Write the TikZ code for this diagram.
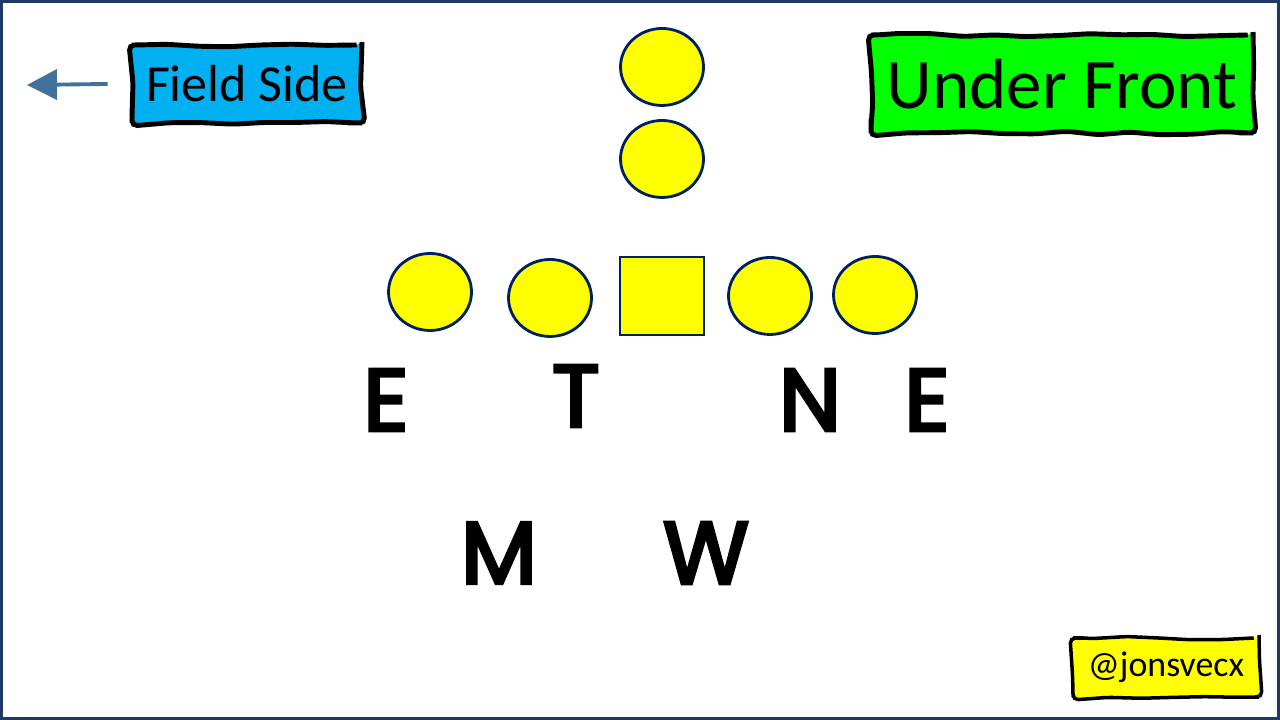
\documentclass[tikz,border=0pt]{standalone}
\usepackage{fontspec}
\setmainfont{Carlito}
\newfontfamily\handfont[FakeBold=4]{Poppins}
\usetikzlibrary{arrows.meta,shapes.geometric,decorations.pathmorphing}
\definecolor{fNavy}{HTML}{1F3864}
\definecolor{fLine}{HTML}{002060}
\definecolor{fCyan}{HTML}{00B0F0}
\definecolor{fGreen}{HTML}{00FF00}
\definecolor{fYellow}{HTML}{FFFF00}
\definecolor{fArrow}{HTML}{41719C}
\tikzset{
  lbox/.style  = {draw=black, line width=1.4pt, inner sep=0pt, align=center,
                  decorate, decoration={random steps, segment length=9pt, amplitude=0.5pt},
                  rounded corners=1.5pt},
  plyr/.style  = {ellipse, draw=fLine, fill=fYellow, line width=0.8pt,
                  minimum width=0.83cm, minimum height=0.77cm, inner sep=0pt},
  ctr/.style   = {rectangle, draw=fLine, fill=fYellow, line width=0.8pt,
                  minimum width=0.84cm, minimum height=0.78cm, inner sep=0pt},
  ltr/.style   = {inner sep=0pt, font=\handfont\fontsize{25}{25}\selectfont},
  fa/.style    = {-{Triangle[length=0.3cm, width=0.3cm]}, draw=fArrow, line width=1.1pt},
}
\pgfmathsetseed{7}

\begin{document}
\begin{tikzpicture}
  \useasboundingbox (0,0) rectangle (12.8,7.2);
  \draw[fNavy, line width=0.9pt] (0.015,0.015) rectangle (12.785,7.185);

  % labels
  \node[lbox, fill=fCyan, minimum width=2.3cm, minimum height=0.78cm,
        font=\fontsize{14.8}{16}\selectfont] (fld) at (2.47,6.36) {Field Side};
  \node[lbox, fill=fGreen, minimum width=3.82cm, minimum height=0.98cm,
        font=\fontsize{20.2}{22}\selectfont] (ufr) at (10.62,6.36) {Under Front};
  \node[lbox, fill=fYellow, line width=1pt, minimum width=1.86cm, minimum height=0.59cm,
        font=\fontsize{10.2}{12}\selectfont] (tag) at (11.66,0.525) {@jonsvecx};

  \coordinate (tip) at (0.27,6.35);
  \draw[fa] ([xshift=-0.22cm]fld.west) -- (tip);

  % offense
  \node[plyr] (qb) at (6.62,6.53) {};
  \node[plyr] (rb) at (6.62,5.61) {};
  \node[plyr] (lt) at (4.30,4.28) {};
  \node[plyr] (lg) at (5.50,4.22) {};
  \node[ctr]  (c)  at (6.62,4.24) {};
  \node[plyr] (rg) at (7.70,4.24) {};
  \node[plyr] (rt) at (8.75,4.25) {};

  % defense
  \node[ltr] (de1) at (3.86,3.20) {E};
  \node[ltr] (dt)  at (5.76,3.24) {T};
  \node[ltr] (dn)  at (8.10,3.20) {N};
  \node[ltr] (de2) at (9.27,3.20) {E};
  \node[ltr] (lbm) at (4.99,1.67) {M};
  \node[ltr] (lbw) at (7.06,1.67) {W};
\end{tikzpicture}
\end{document}
